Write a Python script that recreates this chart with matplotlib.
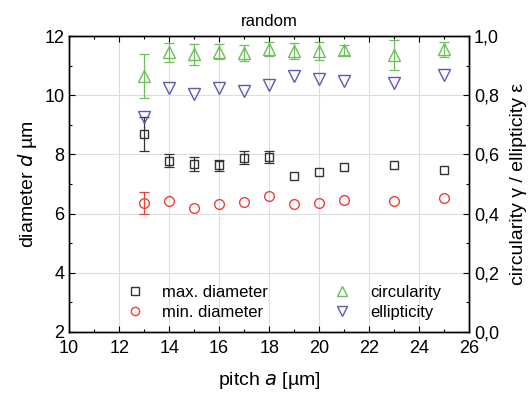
import matplotlib
matplotlib.use("Agg")
import matplotlib.pyplot as plt
from matplotlib.ticker import MultipleLocator, FuncFormatter

plt.rcParams["font.family"] = ["Liberation Sans", "DejaVu Sans"]

# ---- data ----
pitch = [13, 14, 15, 16, 17, 18, 19, 20, 21, 23, 25]

max_d = [8.70, 7.79, 7.69, 7.63, 7.88, 7.90, 7.28, 7.39, 7.57, 7.64, 7.48]
max_d_err = [0.57, 0.22, 0.24, 0.18, 0.22, 0.20, 0.0, 0.0, 0.0, 0.0, 0.0]

min_d = [6.35, 6.43, 6.20, 6.32, 6.40, 6.59, 6.33, 6.35, 6.46, 6.44, 6.52]
min_d_err = [0.37, 0.0, 0.0, 0.0, 0.0, 0.0, 0.0, 0.0, 0.0, 0.0, 0.0]

circ = [0.865, 0.945, 0.938, 0.947, 0.943, 0.956, 0.950, 0.949, 0.953, 0.936, 0.955]
circ_err = [0.074, 0.033, 0.036, 0.026, 0.028, 0.023, 0.026, 0.030, 0.018, 0.050, 0.025]

ellip = [0.727, 0.823, 0.804, 0.823, 0.814, 0.834, 0.865, 0.854, 0.849, 0.840, 0.868]

BLACK = "#333333"
RED = "#e8413c"
GREEN = "#6cbf5a"
BLUE = "#5a5ab4"

fig = plt.figure(figsize=(5.32, 3.97), dpi=100)
ax = fig.add_axes([0.130, 0.164, 0.752, 0.745])
ax2 = ax.twinx()


def draw(a, x, y, err, marker, ms, color, label):
    # only points with a real error get a bar
    if err is not None:
        xe = [xi for xi, e in zip(x, err) if e > 0]
        ye = [yi for yi, e in zip(y, err) if e > 0]
        ee = [e for e in err if e > 0]
        a.errorbar(xe, ye, yerr=ee, fmt="none", ecolor=color, capsize=3.5,
                   elinewidth=0.9, capthick=0.9)
    h, = a.plot(x, y, linestyle="none", marker=marker, markersize=ms,
                markerfacecolor="none", markeredgecolor=color,
                markeredgewidth=1.0, label=label)
    return h


h1 = draw(ax, pitch, max_d, max_d_err, "s", 6, BLACK, "max. diameter")
h2 = draw(ax, pitch, min_d, min_d_err, "o", 7, RED, "min. diameter")
h3 = draw(ax2, pitch, circ, circ_err, "^", 8, GREEN, "circularity")
h4 = draw(ax2, pitch, ellip, None, "v", 8, BLUE, "ellipticity")

ax.set_xlim(10, 26)
ax.set_ylim(2, 12)
ax2.set_ylim(0, 1)

ax.xaxis.set_major_locator(MultipleLocator(2))
ax.xaxis.set_minor_locator(MultipleLocator(1))
ax.yaxis.set_major_locator(MultipleLocator(2))
ax.yaxis.set_minor_locator(MultipleLocator(1))
ax2.yaxis.set_major_locator(MultipleLocator(0.2))
ax2.yaxis.set_minor_locator(MultipleLocator(0.1))
ax2.yaxis.set_major_formatter(FuncFormatter(lambda v, p: f"{v:.1f}".replace(".", ",")))

ax.grid(True, which="major", color="#dddddd", linewidth=0.8)
ax.set_axisbelow(True)

for a in (ax, ax2):
    a.tick_params(which="both", direction="in", labelsize=13, width=0.8)
    a.tick_params(which="major", length=4)
    a.tick_params(which="minor", length=2.5)
    for s in a.spines.values():
        s.set_linewidth(1.0)
ax.tick_params(which="both", top=True, right=False)
ax.tick_params(axis="x", pad=6)

ax.set_xlabel("pitch $a$ [µm]", fontsize=14, labelpad=9)
ax.set_ylabel("diameter $d$ µm", fontsize=14, labelpad=4)
ax2.set_ylabel("circularity γ / ellipticity ε", fontsize=14, rotation=90, labelpad=8)
ax.set_title("random", fontsize=12, pad=7)

ax.legend(handles=[h1, h2, h3, h4], ncol=2, frameon=False, fontsize=12,
          loc="lower left", bbox_to_anchor=(0.106, -0.01), markerscale=0.85,
          handlelength=1.0, handletextpad=1.15, columnspacing=3.95,
          labelspacing=0.3)

fig.savefig("out.png", dpi=100)
